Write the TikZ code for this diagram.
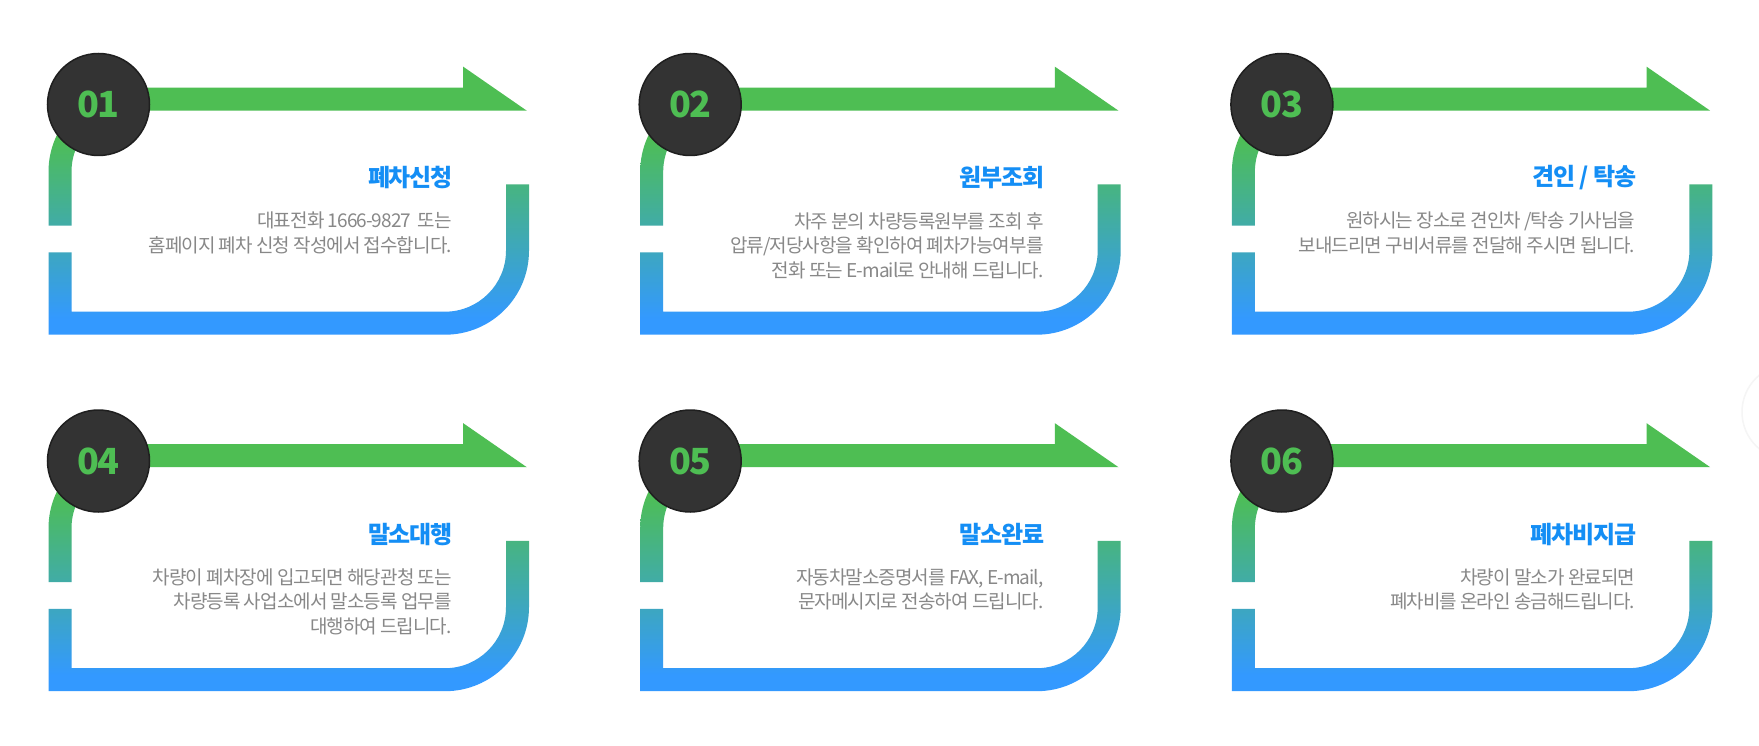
\documentclass[tikz,border=0pt]{standalone}
\usepackage{fontspec}
\setmainfont{Noto Sans CJK KR}[LetterSpace=-5]
\definecolor{flowgreen}{RGB}{78,190,83}
\definecolor{flowblue}{RGB}{51,153,255}
\definecolor{titleblue}{RGB}{20,142,245}
\definecolor{descgray}{RGB}{136,136,136}
\definecolor{discdark}{RGB}{51,51,51}
\pgfdeclareverticalshading{flowshade}{100bp}{color(0bp)=(flowblue); color(28bp)=(flowblue); color(62bp)=(flowgreen); color(100bp)=(flowgreen)}
\begin{document}
\begin{tikzpicture}[x=1pt,y=-1pt,
  flow/.style={shading=flowshade},
  numdisc/.style={circle,fill=discdark,draw=black!88,line width=1.5pt,minimum size=102pt,inner sep=0pt,
    text=flowgreen,font=\bfseries\fontsize{36}{40}\selectfont},
  ttl/.style={anchor=east,inner sep=0pt,text=titleblue,font=\bfseries\fontsize{24}{28}\selectfont},
  dsc/.style={anchor=north east,align=right,inner sep=0pt,text=descgray,font=\fontsize{19}{24.5}\selectfont}]
  \useasboundingbox[fill=white] (0,0) rectangle (1759,746);
  \foreach \k/\ox/\oy in {1/0/0,2/591.7/0,3/1183.4/0,4/0/356.5,5/591.7/356.5,6/1183.4/356.5}{
    \begin{scope}[shift={(\ox,\oy)}]
      \shade[flow] (48.5,225.7) -- (48.5,171.7) arc[start angle=180,end angle=270,radius=84]
        -- (463.2,87.7) -- (463.2,66.7) -- (526.8,110.7) -- (132.5,110.7)
        arc[start angle=270,end angle=180,radius=61] -- (71.5,225.7) -- cycle
        (48.5,252.3) -- (48.5,334.7) -- (445,334.7) arc[start angle=90,end angle=0,radius=84]
        -- (529,184.3) -- (506,184.3) -- (506,250.7)
        arc[start angle=0,end angle=90,radius=61] -- (71.5,311.7) -- (71.5,252.3) -- cycle;
      \node[numdisc] (disc\k) at (98.5,104.5) {0\k};
    \end{scope}}
  \node[ttl] (title1) at (453,177.7) {폐차신청};
  \node[dsc] (desc1) at (452,212) {대표전화 1666-9827\ \ 또는\\홈페이지 폐차 신청 작성에서 접수합니다.};
  \node[ttl] (title2) at (1044.7,177.7) {원부조회};
  \node[dsc] (desc2) at (1043.7,212) {차주 분의 차량등록원부를 조회 후\\압류/저당사항을 확인하여 폐차가능여부를\\전화 또는 E-mail로 안내해 드립니다.};
  \node[ttl] (title3) at (1636.4,177.7) {견인 / 탁송};
  \node[dsc] (desc3) at (1635.4,212) {원하시는 장소로 견인차 /탁송 기사님을\\보내드리면 구비서류를 전달해 주시면 됩니다.};
  \node[ttl] (title4) at (453,534.2) {말소대행};
  \node[dsc] (desc4) at (452,568.5) {차량이 폐차장에 입고되면 해당관청 또는\\차량등록 사업소에서 말소등록 업무를\\대행하여 드립니다.};
  \node[ttl] (title5) at (1044.7,534.2) {말소완료};
  \node[dsc] (desc5) at (1043.7,568.5) {자동차말소증명서를 FAX, E-mail,\\문자메시지로 전송하여 드립니다.};
  \node[ttl] (title6) at (1636.4,534.2) {폐차비지급};
  \node[dsc] (desc6) at (1635.4,568.5) {차량이 말소가 완료되면\\폐차비를 온라인 송금해드립니다.};
  \draw[black!4,line width=1.5pt] (1790,412) circle[radius=48];
\end{tikzpicture}
\end{document}
